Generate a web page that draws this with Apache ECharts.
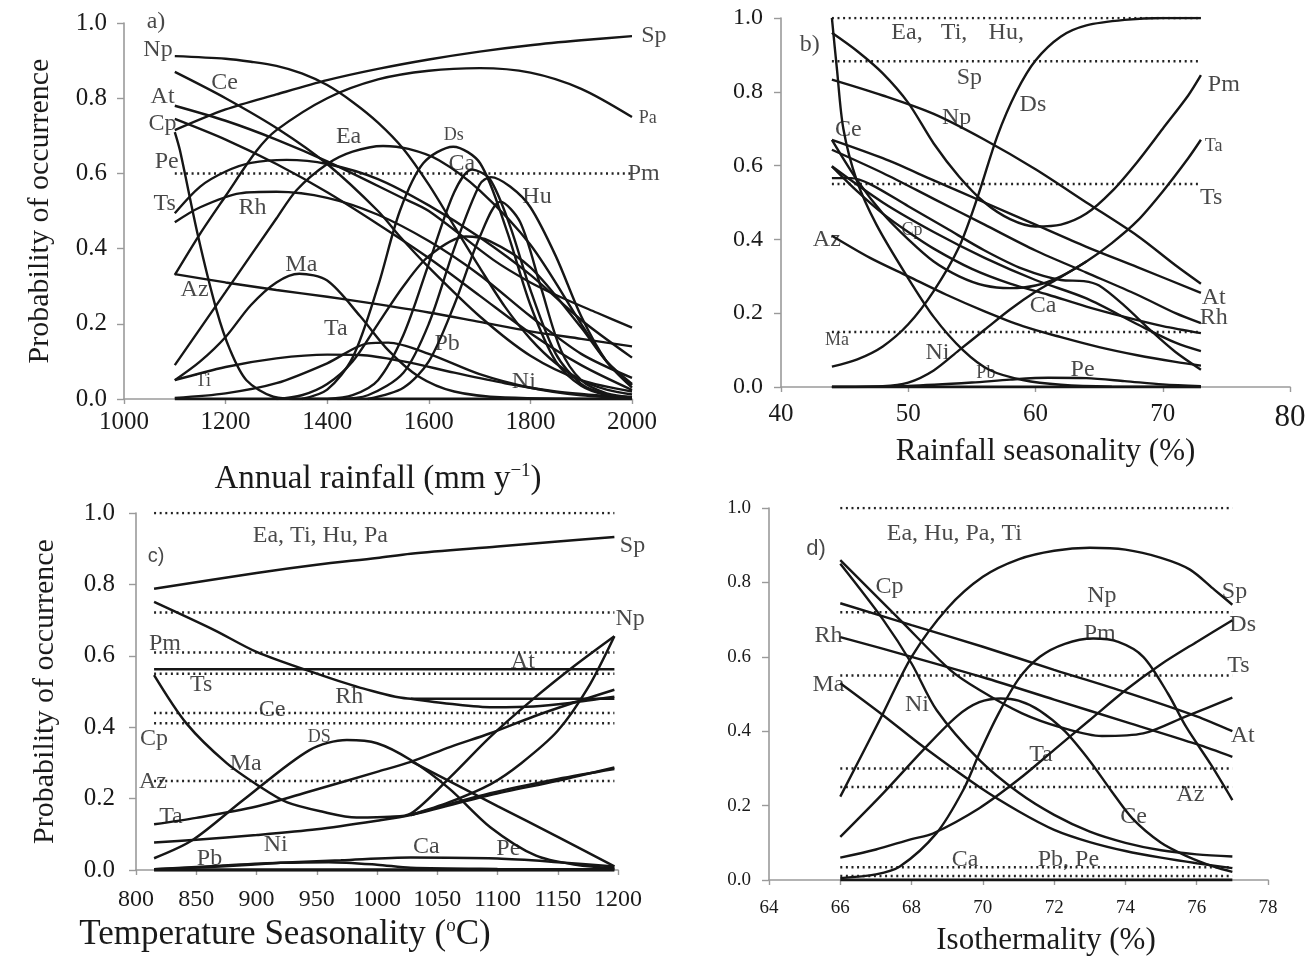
<!DOCTYPE html>
<html lang="en">
<head>
<meta charset="UTF-8">
<title>Probability of occurrence</title>
<script src="https://cdn.jsdelivr.net/npm/echarts@6/dist/echarts.min.js"></script>
<style>
  html, body { margin: 0; padding: 0; background: #fff; }
  #c { width: 1316px; height: 958px; }
</style>
</head>
<body>
<div id="c"></div>
<script>
// ---- panel a : annual rainfall ----
var aSp = [[1100,0.715],[1200,0.77],[1300,0.81],[1400,0.848],[1500,0.878],[1600,0.903],[1700,0.924],[1800,0.941],[1900,0.954],[2000,0.965]];
var aPa = [[1100,0.33],[1150,0.44],[1200,0.54],[1261,0.66],[1300,0.715],[1400,0.8],[1500,0.85],[1600,0.873],[1700,0.88],[1800,0.868],[1900,0.825],[2000,0.75]];
var aNp = [[1100,0.912],[1200,0.905],[1250,0.897],[1300,0.886],[1350,0.866],[1400,0.835],[1450,0.79],[1500,0.735],[1550,0.665],[1600,0.57],[1650,0.46],[1700,0.35],[1750,0.245],[1800,0.16],[1850,0.095],[1900,0.05],[1950,0.025],[2000,0.012]];
var aCe = [[1100,0.87],[1200,0.8],[1307,0.715],[1400,0.625],[1500,0.5],[1543,0.432],[1600,0.35],[1700,0.22],[1800,0.115],[1900,0.05],[2000,0.02]];
var aAt = [[1100,0.78],[1200,0.74],[1300,0.69],[1400,0.632],[1543,0.538],[1600,0.5],[1727,0.37],[1800,0.31],[1858,0.272],[1930,0.23],[2000,0.19]];
var aCp = [[1100,0.745],[1200,0.69],[1300,0.625],[1400,0.55],[1500,0.465],[1600,0.375],[1700,0.275],[1800,0.175],[1900,0.09],[2000,0.024]];
var aPe = [[1100,0.494],[1150,0.565],[1200,0.605],[1250,0.628],[1320,0.636],[1400,0.625],[1500,0.585],[1600,0.515],[1700,0.43],[1800,0.33],[1900,0.21],[2000,0.11]];
var aTs = [[1100,0.47],[1150,0.51],[1228,0.547],[1300,0.551],[1400,0.535],[1500,0.49],[1600,0.42],[1700,0.33],[1800,0.22],[1900,0.12],[2000,0.056]];
var aEa = [[1100,0.09],[1200,0.285],[1300,0.48],[1340,0.556],[1400,0.625],[1450,0.658],[1510,0.673],[1560,0.665],[1620,0.635],[1700,0.555],[1800,0.41],[1900,0.2],[1950,0.1],[2000,0.037]];
var aMa = [[1100,0.05],[1150,0.1],[1200,0.165],[1250,0.25],[1300,0.31],[1345,0.333],[1400,0.315],[1465,0.22],[1520,0.13],[1580,0.06],[1650,0.02],[1750,0.004],[2000,0]];
var aTi = [[1100,0.05],[1200,0.085],[1300,0.108],[1400,0.118],[1465,0.117],[1550,0.1],[1650,0.07],[1750,0.042],[1850,0.02],[1950,0.008],[2000,0.005]];
var aTa = [[1100,0.003],[1200,0.015],[1300,0.042],[1400,0.095],[1480,0.148],[1520,0.15],[1600,0.12],[1700,0.066],[1800,0.03],[1900,0.01],[2000,0.003]];
var aAz = [[1100,0.332],[1200,0.31],[1300,0.29],[1400,0.272],[1465,0.259],[1600,0.23],[1700,0.205],[1800,0.18],[1900,0.16],[2000,0.14]];
var aDrop = [[1100,0.71],[1110,0.662],[1146,0.432],[1182,0.237],[1209,0.13],[1241,0.05],[1294,0.006],[1350,0],[1400,0]];
var aDs = [[1350,0],[1400,0.025],[1450,0.11],[1500,0.3],[1543,0.5],[1589,0.627],[1648,0.671],[1701,0.627],[1753,0.45],[1800,0.25],[1850,0.1],[1900,0.035],[1950,0.01],[2000,0.003]];
var aCa = [[1400,0],[1450,0.01],[1500,0.05],[1550,0.17],[1600,0.36],[1650,0.55],[1685,0.61],[1720,0.585],[1760,0.46],[1800,0.29],[1850,0.12],[1900,0.04],[1950,0.012],[2000,0.004]];
var aHu = [[1420,0],[1480,0.01],[1550,0.07],[1600,0.2],[1650,0.4],[1700,0.57],[1722,0.59],[1760,0.565],[1800,0.51],[1850,0.38],[1900,0.22],[1950,0.1],[2000,0.03]];
var aPk = [[1480,0],[1550,0.03],[1600,0.1],[1650,0.25],[1700,0.43],[1741,0.525],[1780,0.47],[1820,0.3],[1860,0.13],[1900,0.05],[1950,0.015],[2000,0.005]];
var aPb = [[1300,0],[1350,0.01],[1400,0.04],[1450,0.1],[1500,0.2],[1550,0.3],[1600,0.38],[1673,0.432],[1720,0.42],[1800,0.35],[1900,0.19],[1950,0.1],[2000,0.04]];
var aZero = [[1100,0],[2000,0]];
var aDots = [0.6];
var aLabels = [['Np',1067,0.93],['Ce',1198,0.84],['At',1076,0.804],['Cp',1076,0.733],['Pe',1084,0.631],['Ts',1080,0.519],
  ['Rh',1253,0.51],['Ea',1442,0.698],['Ds',1649,0.702],['Ca',1665,0.627],['Hu',1813,0.538],['Ma',1349,0.356],['Az',1139,0.292],
  ['Ta',1417,0.188],['Pb',1636,0.148],['Ti',1156,0.046],['Ni',1787,0.046],['Sp',2043,0.965],['Pa',2031,0.746],['Pm',2023,0.6]];
var aSmall = ['Ds','Pa','Ti'];

// ---- panel b : rainfall seasonality ----
var bDs = [[44,0.055],[46,0.075],[48,0.11],[50,0.17],[52,0.26],[54,0.38],[55.5,0.52],[57,0.68],[58.5,0.8],[60,0.885],[62,0.95],[64,0.98],[67,0.995],[70,1],[73,1]];
var bNp = [[44,0.96],[46,0.91],[48,0.85],[50,0.77],[52,0.66],[54,0.57],[56,0.5],[58,0.455],[60,0.435],[62,0.44],[64,0.47],[66,0.53],[68,0.61],[70,0.7],[72,0.79],[73,0.845]];
var bTop = [[44,0.833],[48,0.79],[52,0.74],[56,0.67],[60,0.59],[64,0.5],[68,0.41],[71,0.33],[73,0.28]];
var bCe = [[44,0.67],[48,0.62],[52,0.56],[56,0.5],[60,0.44],[64,0.38],[68,0.325],[73,0.255]];
var bCp = [[44,0.67],[46,0.56],[48,0.47],[50,0.4],[52,0.34],[54,0.3],[56,0.275],[58,0.268],[60,0.275],[62,0.3],[64,0.34],[66,0.39],[68,0.45],[70,0.53],[72,0.62],[73,0.67]];
var bCa = [[44,0],[48,0.002],[50,0.012],[52,0.045],[54,0.1],[56,0.155],[58,0.21],[60,0.258],[62,0.298],[64,0.34]];
var bBump = [[44,0.566],[45.5,0.566],[47,0.55],[50,0.49],[53,0.43],[56,0.37],[59,0.32],[62,0.29],[63.8,0.287],[65,0.275],[67,0.22],[69,0.155],[71,0.095],[73,0.047]];
var bRh = [[44,0.643],[48,0.58],[52,0.51],[56,0.44],[60,0.37],[64,0.31],[68,0.25],[71,0.2],[73,0.173]];
var bNi = [[44,1],[44.4,0.86],[44.9,0.7],[45.95,0.56],[47.5,0.44],[49.9,0.3],[52,0.19],[54.3,0.1],[56.4,0.046],[59,0.019],[62,0.006],[66,0.001],[73,0]];
var bMid = [[44,0.598],[46,0.53],[48,0.47],[50,0.42],[52,0.375],[55,0.32],[58,0.28],[61,0.25],[64,0.218],[67,0.19],[70,0.165],[73,0.146]];
var bLow = [[44,0.598],[48,0.5],[52,0.42],[56,0.35],[60,0.29],[64,0.24],[68,0.17],[71,0.12],[73,0.097]];
var bAz = [[44,0.41],[47,0.35],[50,0.3],[53,0.25],[56,0.205],[59,0.165],[62,0.135],[65,0.108],[68,0.086],[71,0.068],[73,0.058]];
var bPe = [[44,0],[50,0.003],[55,0.012],[58,0.02],[61,0.025],[64,0.024],[67,0.016],[70,0.007],[73,0.002]];
var bZero = [[44,0],[73,0]];
var bDots = [1.0, 0.883, 0.55, 0.149];
var bLabels = [['Ea,',49.9,0.96],['Ti,',53.6,0.96],['Hu,',57.7,0.96],['Sp',54.8,0.837],['Np',53.8,0.729],['Ds',59.8,0.765],['Pm',74.8,0.82],['Ta',74.0,0.652],
  ['Ts',73.8,0.512],['Ce',45.3,0.697],['Cp',50.3,0.426],['Az',43.6,0.4],['Ma',44.4,0.128],['Ni',52.3,0.092],['Pb',56.1,0.038],
  ['Pe',63.7,0.047],['Ca',60.6,0.219],['At',74.0,0.241],['Rh',74.0,0.187]];
var bSmall = ['Ta','Cp','Ma','Pb'];

// ---- panel c : temperature seasonality ----
var cSp = [[815,0.788],[900,0.832],[950,0.855],[1000,0.874],[1028,0.886],[1100,0.906],[1150,0.92],[1197,0.933]];
var cAt = [[815,0.5625],[1197,0.5625]];
var cRh = [[815,0.751],[865,0.672],[900,0.611],[950,0.55],[989,0.508],[1028,0.48],[1100,0.48],[1197,0.48]];
var cRh2 = [[1028,0.48],[1060,0.466],[1096,0.456],[1130,0.458],[1160,0.468],[1197,0.485]];
var cTs = [[815,0.546],[842,0.41],[875,0.3],[903,0.233],[925,0.19],[955,0.163],[983,0.147],[1011,0.149],[1028,0.158],[1061,0.261],[1094,0.373],[1130,0.48],[1165,0.575],[1197,0.655]];
var cTa = [[815,0.128],[850,0.146],[900,0.178],[944,0.22],[1000,0.275],[1028,0.303],[1061,0.345],[1094,0.383],[1130,0.43],[1160,0.465],[1197,0.505]];
var cLow = [[815,0.077],[850,0.085],[900,0.098],[950,0.114],[1000,0.138],[1028,0.154],[1094,0.21],[1150,0.25],[1197,0.287]];
var cLow2 = [[1028,0.154],[1094,0.215],[1150,0.255],[1197,0.283]];
var cNp = [[1028,0.154],[1060,0.19],[1094,0.24],[1120,0.3],[1150,0.39],[1175,0.51],[1197,0.655]];
var cDS = [[815,0.033],[847,0.084],[889,0.196],[944,0.336],[975,0.364],[1000,0.355],[1028,0.308],[1060,0.228],[1094,0.12],[1132,0.04],[1165,0.015],[1197,0.005]];
var cMa = [[1028,0.305],[1100,0.179],[1150,0.093],[1197,0.01]];
var cCa = [[815,0.002],[870,0.01],[920,0.02],[970,0.027],[1028,0.035],[1100,0.032],[1150,0.022],[1197,0.01]];
var cNi = [[815,0.002],[870,0.012],[920,0.02],[960,0.022],[1000,0.015],[1028,0.006],[1100,0.003],[1197,0.002]];
var cZero = [[815,0],[1197,0]];
var cDots = [1.0, 0.721, 0.609, 0.55, 0.44, 0.411, 0.249];
var cLabels = [['Ea, Ti, Hu, Pa',953,0.9375],['Sp',1212,0.909],['Np',1210,0.704],['Pm',824,0.634],['At',1121,0.583],['Ts',854,0.518],
  ['Rh',977,0.485],['Ce',913,0.448],['Cp',815,0.368],['DS',952,0.373],['Ma',891,0.298],['Az',814,0.247],['Ta',829,0.149],
  ['Ni',916,0.07],['Pb',861,0.033],['Ca',1041,0.065],['Pe',1109,0.061]];
var cSmall = ['DS'];

// ---- panel d : isothermality ----
var dSp = [[66,0.224],[67.2,0.448],[68,0.6],[69,0.73],[70,0.815],[71,0.862],[72,0.885],[73,0.893],[74,0.888],[75,0.866],[75.8,0.835],[76.5,0.78],[77,0.74]];
var dCp = [[66,0.86],[67.67,0.7],[69.08,0.565],[69.92,0.51],[71.1,0.448],[72.2,0.41],[73.34,0.387],[74.5,0.394],[75.7,0.44],[77,0.49]];
var dNi = [[66,0.85],[67.2,0.7],[68,0.582],[68.7,0.457],[69.9,0.323],[71,0.235],[72,0.175],[73,0.13],[74,0.1],[75,0.08],[76,0.069],[77,0.063]];
var dAt = [[66,0.744],[68,0.685],[70,0.627],[72,0.565],[74,0.505],[76,0.44],[77,0.4]];
var dRh = [[66,0.653],[68,0.6],[70,0.545],[72,0.485],[74,0.425],[76,0.365],[77,0.331]];
var dMa = [[66,0.529],[67.2,0.443],[68.33,0.358],[69.9,0.25],[71,0.185],[72,0.135],[73,0.102],[74,0.078],[75,0.06],[76,0.045],[77,0.032]];
var dTa = [[66,0.116],[67.2,0.233],[68.33,0.35],[69.27,0.44],[69.9,0.478],[70.5,0.488],[71,0.482],[71.6,0.455],[72.3,0.4],[73,0.32],[73.6,0.24],[74.2,0.165],[75,0.1],[75.7,0.065],[76.5,0.035],[77,0.022]];
var dPm = [[66,0.005],[67,0.015],[67.67,0.036],[68.7,0.126],[69.45,0.242],[69.9,0.34],[70.4,0.44],[71,0.54],[71.6,0.6],[72.3,0.635],[73.1,0.649],[73.8,0.64],[74.5,0.6],[75.2,0.5],[75.7,0.412],[76.4,0.31],[77,0.215]];
var dDs = [[66,0.06],[67,0.082],[68,0.11],[68.6,0.125],[69.9,0.193],[71,0.27],[72,0.35],[73,0.43],[74,0.51],[75,0.58],[76,0.64],[77,0.698]];
var dZero = [[66,0],[77,0]];
var dDots = [1.0, 0.72, 0.55, 0.3, 0.25, 0.034, 0.011];
var dLabels = [['Ea, Hu, Pa, Ti',69.2,0.931],['Cp',67.38,0.788],['Np',73.34,0.765],['Sp',77.06,0.774],['Ds',77.29,0.685],['Pm',73.28,0.6625],
  ['Ts',77.17,0.577],['Rh',65.67,0.658],['Ma',65.67,0.524],['Ni',68.15,0.47],['At',77.29,0.389],['Ta',71.63,0.336],['Az',75.82,0.228],
  ['Ce',74.23,0.17],['Ca',69.5,0.054],['Pb, Pe',72.4,0.054]];
var dSmall = [];

var panelTags = [['a)',1063,1.003],['b)',42.25,0.928],['c)',816.7,0.877],['d)',65.32,0.891]];

var SERIF = '"Liberation Serif", "DejaVu Serif", serif';
var SANS = '"Liberation Sans", Arial, sans-serif';
var INK = '#161616';
var GREY = '#9a9a9a';

function curve(i, data, w) {
  return {
    type: 'line', xAxisIndex: i, yAxisIndex: i, data: data,
    smooth: 0.3, symbol: 'none', silent: true,
    lineStyle: { color: INK, width: w || 2.4 }, z: 3
  };
}
function dotted(i, y, x0, x1) {
  return {
    type: 'line', xAxisIndex: i, yAxisIndex: i, data: [[x0, y], [x1, y]],
    symbol: 'none', silent: true,
    lineStyle: { color: '#222', width: 2.5, type: [2, 3.6] }, z: 2
  };
}
function labels(i, list, small, size) {
  return {
    type: 'scatter', xAxisIndex: i, yAxisIndex: i, clip: false, silent: true,
    symbolSize: 1, itemStyle: { color: 'rgba(0,0,0,0)' }, z: 10,
    label: { show: true, position: 'inside', formatter: '{b}', color: '#1a1a1a', fontFamily: SERIF, fontSize: size },
    data: list.map(function (l) {
      var d = { name: l[0], value: [l[1], l[2]] };
      if (small.indexOf(l[0]) >= 0) d.label = { fontSize: 18 };
      return d;
    })
  };
}
function tag(i, t, font, size) {
  return {
    type: 'scatter', xAxisIndex: i, yAxisIndex: i, clip: false, silent: true,
    symbolSize: 1, itemStyle: { color: 'rgba(0,0,0,0)' }, z: 10,
    label: { show: true, position: 'inside', formatter: '{b}', color: '#1a1a1a', fontFamily: font, fontSize: size },
    data: [{ name: t[0], value: [t[1], t[2]] }]
  };
}

function xAxis(i, min, max, step, name, o) {
  return {
    type: 'value', gridIndex: i, min: min, max: max, interval: step,
    name: name, nameLocation: 'middle', nameGap: o.gap,
    nameTextStyle: Object.assign({ fontFamily: SERIF, fontSize: o.nameSize, color: '#1a1a1a' }, o.nameStyle || {}),
    axisLine: { onZero: false, lineStyle: { color: GREY, width: 1.6 } },
    axisTick: { show: true, length: 5, lineStyle: { color: GREY, width: 1.4 } },
    axisLabel: Object.assign({ fontFamily: SERIF, fontSize: o.labelSize, color: '#1a1a1a', margin: o.margin,
      formatter: function (v) { return String(v); } }, o.label || {}),
    splitLine: { show: false }
  };
}
function yAxis(i, name, o) {
  return {
    type: 'value', gridIndex: i, min: 0, max: 1, interval: 0.2,
    name: name, nameLocation: 'middle', nameGap: o.gap, nameRotate: 90,
    nameTextStyle: { fontFamily: SERIF, fontSize: 30, color: '#1a1a1a' },
    axisLine: { show: true, lineStyle: { color: GREY, width: 1.6 } },
    axisTick: { show: true, length: 7, lineStyle: { color: GREY, width: 1.4 } },
    axisLabel: { fontFamily: SERIF, fontSize: o.labelSize, color: '#1a1a1a', margin: o.margin,
      formatter: function (v) { return v.toFixed(1); } },
    splitLine: { show: false }
  };
}

var series = [];
// panel a
[aSp, aPa, aNp, aCe, aAt, aCp, aPe, aTs, aEa, aMa, aTi, aTa, aAz, aDrop, aDs, aCa, aHu, aPk, aPb].forEach(function (d) { series.push(curve(0, d)); });
series.push(curve(0, aZero, 3.2));
aDots.forEach(function (y) { series.push(dotted(0, y, 1100, 2000)); });
series.push(labels(0, aLabels, aSmall, 24));
// panel b
[bDs, bNp, bTop, bCe, bCp, bCa, bBump, bRh, bNi, bMid, bLow, bAz, bPe].forEach(function (d) { series.push(curve(1, d)); });
series.push(curve(1, bZero, 3.2));
bDots.forEach(function (y) { series.push(dotted(1, y, 44, 73)); });
series.push(labels(1, bLabels, bSmall, 24));
// panel c
[cSp, cAt, cRh, cRh2, cTs, cTa, cLow, cLow2, cNp, cDS, cMa, cCa, cNi].forEach(function (d) { series.push(curve(2, d, 2.5)); });
series.push(curve(2, cZero, 3.6));
cDots.forEach(function (y) { series.push(dotted(2, y, 815, 1197)); });
series.push(labels(2, cLabels, cSmall, 24));
// panel d
[dSp, dCp, dNi, dAt, dRh, dMa, dTa, dPm, dDs].forEach(function (d) { series.push(curve(3, d)); });
series.push(curve(3, dZero, 3.2));
dDots.forEach(function (y) { series.push(dotted(3, y, 66, 77)); });
series.push(labels(3, dLabels, dSmall, 24));
// panel tags
series.push(tag(0, panelTags[0], SERIF, 24));
series.push(tag(1, panelTags[1], SERIF, 24));
series.push(tag(2, panelTags[2], SANS, 20));
series.push(tag(3, panelTags[3], SANS, 22));

var supRich = { sup: { fontFamily: SERIF, fontSize: 19, verticalAlign: 'bottom', padding: [0, 0, 16, 0], color: '#1a1a1a' } };

var option = {
  animation: false,
  backgroundColor: '#ffffff',
  grid: [
    { left: 124, top: 23, width: 508, height: 376 },
    { left: 781, top: 18, width: 509, height: 369 },
    { left: 136, top: 513, width: 482, height: 357 },
    { left: 769, top: 508, width: 499, height: 372 }
  ],
  xAxis: [
    xAxis(0, 1000, 2000, 200, 'Annual rainfall (mm y{sup|\u22121})', { gap: 63, nameSize: 33, labelSize: 25, margin: 11, nameStyle: { rich: supRich } }),
    xAxis(1, 40, 80, 10, 'Rainfall seasonality (%)', { gap: 49, nameSize: 31, labelSize: 25, margin: 15, nameStyle: { padding: [0, 0, 0, 20] },
      label: { formatter: function (v) { return v === 80 ? '{big|80}' : String(v); }, rich: { big: { fontFamily: SERIF, fontSize: 31, color: '#1a1a1a' } } } }),
    xAxis(2, 800, 1200, 50, 'Temperature Seasonality ({sup|o}C)', { gap: 47, nameSize: 35, labelSize: 24, margin: 18, nameStyle: { padding: [0, 184, 0, 0], rich: supRich } }),
    xAxis(3, 64, 78, 2, 'Isothermality (%)', { gap: 45, nameSize: 31, labelSize: 19, margin: 19, nameStyle: { padding: [0, 0, 0, 55] } })
  ],
  yAxis: [
    yAxis(0, 'Probability of occurrence', { gap: 69, labelSize: 25, margin: 17 }),
    yAxis(1, '', { gap: 60, labelSize: 24, margin: 18 }),
    yAxis(2, 'Probability of occurrence', { gap: 76, labelSize: 25, margin: 21 }),
    yAxis(3, '', { gap: 60, labelSize: 19, margin: 18 })
  ],
  series: series
};

var chart = echarts.init(document.getElementById('c'), null, { renderer: 'canvas' });
chart.setOption(option);
</script>
</body>
</html>
